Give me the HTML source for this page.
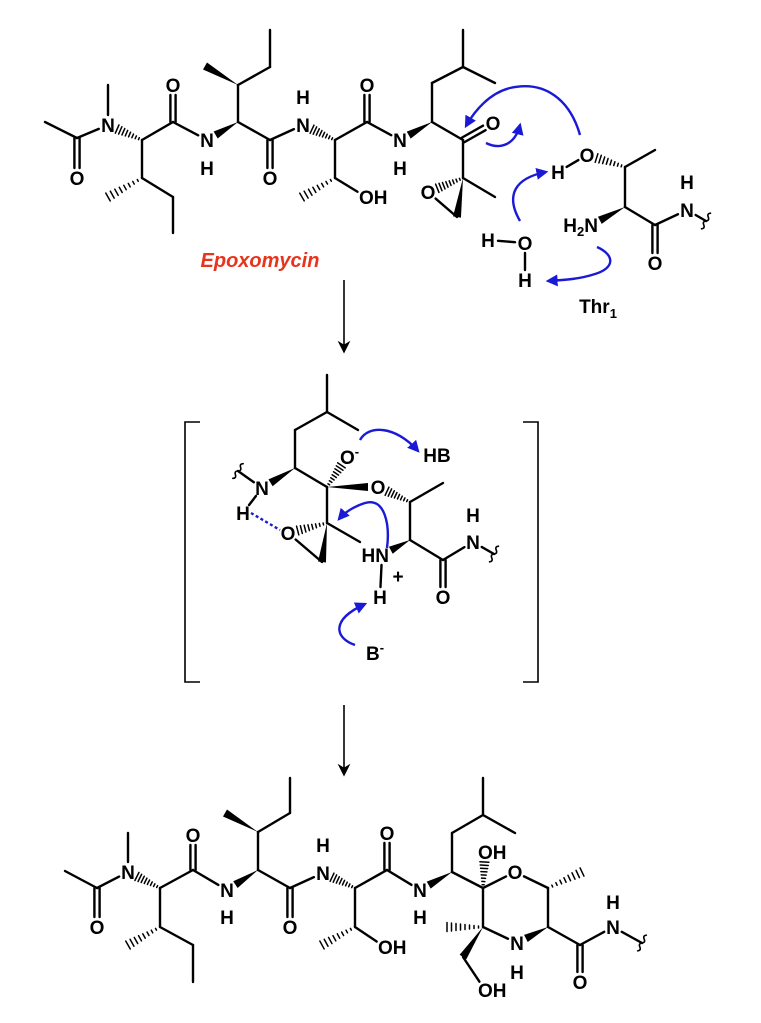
<!DOCTYPE html>
<html><head><meta charset="utf-8">
<style>
html,body{margin:0;padding:0;background:#fff;}
svg{display:block;}
text{font-family:"Liberation Sans",Arial,sans-serif;font-weight:bold;}
</style></head>
<body>
<svg id="s" width="761" height="1023" viewBox="0 0 761 1023" xmlns="http://www.w3.org/2000/svg">
<defs>
<marker id="ab" viewBox="0 0 10 10" refX="8" refY="5" markerWidth="5" markerHeight="5" orient="auto"><path d="M0,0 L10,5 L0,10 z" fill="#1a1ad6"/></marker>
<marker id="ak" viewBox="0 0 10 10" refX="8" refY="5" markerWidth="8" markerHeight="8" orient="auto"><path d="M0,0 L10,5 L0,10 L3,5 z" fill="#000"/></marker>
</defs>
<g id="g" stroke="#000" stroke-width="2.4" fill="none" stroke-linecap="round"></g>
<g id="t" fill="#000" font-size="19"></g>
<g stroke="#1a1ad6" stroke-width="2.4" fill="none">
<path d="M580,135 C570,100 545,80 510,88 C490,93 475,110 466,126" marker-end="url(#ab)"/>
<path d="M486,143 C500,150 515,145 520,125" marker-end="url(#ab)"/>
<path d="M520,221 C505,195 515,178 546,172" marker-end="url(#ab)"/>
<path d="M597,247 C615,255 615,268 595,274 C580,279 565,280 548,281" marker-end="url(#ab)"/>
<path d="M360,440 C368,425 395,425 418,451" marker-end="url(#ab)"/>
<path d="M387,548 C390,525 385,497 365,503 C355,506 345,512 339,519" marker-end="url(#ab)"/>
<path d="M355,645 C335,638 330,620 365,604" marker-end="url(#ab)"/>
<path d="M251,513 L280,530" stroke-dasharray="3,2.5"/>
</g>
<g stroke="#000" stroke-width="1.6" fill="none">
<line x1="344" y1="280" x2="344" y2="351" marker-end="url(#ak)"/>
<line x1="344" y1="705" x2="344" y2="774" marker-end="url(#ak)"/>
<path d="M200,422 L185,422 L185,682 L200,682"/>
<path d="M523,422 L538,422 L538,682 L523,682"/>
</g>
<text x="260" y="267" font-size="20" font-style="italic" fill="#e8341c" text-anchor="middle">Epoxomycin</text>
<text x="598" y="313" font-size="19" text-anchor="middle">Thr<tspan font-size="13" dy="5">1</tspan></text>
</svg>
<script>
const G=document.getElementById('g'),T=document.getElementById('t');
const NS='http://www.w3.org/2000/svg';
const lab=new Set();
function add(p,tag,attrs,txt){const e=document.createElementNS(NS,tag);for(const k in attrs)e.setAttribute(k,attrs[k]);if(txt!==undefined)e.innerHTML=txt;p.appendChild(e);return e;}
function A(x,y,t,mode){
 if(!t)return [x,y];
 lab.add(x+','+y);
 if(mode==='OH') add(T,'text',{x:x-7,y:y+7,'text-anchor':'start'},'OH');
 else if(mode==='H2N') add(T,'text',{x:x+7,y:y+7,'text-anchor':'end'},'H<tspan font-size="13" dy="4">2</tspan><tspan dy="-4">N</tspan>');
 else if(mode==='HN') add(T,'text',{x:x+7,y:y+7,'text-anchor':'end'},'HN');
 else if(mode==='Om') add(T,'text',{x:x-7,y:y+7,'text-anchor':'start'},'O<tspan font-size="13" dy="-8">-</tspan>');
 else add(T,'text',{x:x,y:y+7,'text-anchor':'middle'},t);
 return [x,y];}
function lt(x,y,t){add(T,'text',{x:x,y:y+7,'text-anchor':'middle'},t);}
function sh(a,b){let[x1,y1]=a,[x2,y2]=b;const dx=x2-x1,dy=y2-y1,d=Math.hypot(dx,dy);const r1=lab.has(a+'')?10:0,r2=lab.has(b+'')?10:0;return[x1+dx/d*r1,y1+dy/d*r1,x2-dx/d*r2,y2-dy/d*r2,dx/d,dy/d];}
function s(a,b){const[x1,y1,x2,y2]=sh(a,b);add(G,'line',{x1,y1,x2,y2});}
function d(a,b){const[x1,y1,x2,y2,ux,uy]=sh(a,b);const o=2.6,px=-uy*o,py=ux*o;add(G,'line',{x1:x1+px,y1:y1+py,x2:x2+px,y2:y2+py});add(G,'line',{x1:x1-px,y1:y1-py,x2:x2-px,y2:y2-py});}
function w(a,b){const[x1,y1,x2,y2,ux,uy]=sh(a,b);const o=4,px=-uy*o,py=ux*o;add(G,'polygon',{points:`${x1},${y1} ${x2+px},${y2+py} ${x2-px},${y2-py}`,fill:'#000',stroke:'none'});}
function h(a,b){const[x1,y1,x2,y2,ux,uy]=sh(a,b);const n=8;for(let i=1;i<=n;i++){const f=i/n,cx=x1+(x2-x1)*f,cy=y1+(y2-y1)*f,o=0.5+4*f;add(G,'line',{x1:cx-uy*o,y1:cy+ux*o,x2:cx+uy*o,y2:cy-ux*o,'stroke-width':1.5});}}
function sq(a,b){
 const[x1,y1]=a,[x2,y2]=b;const dx=x2-x1,dy=y2-y1,dd=Math.hypot(dx,dy),ux=dx/dd,uy=dy/dd,px=-uy,py=ux;let p=`M${x2-px*9},${y2-py*9}`;for(let i=0;i<4;i++){const t0=-9+i*4.5,t1=t0+4.5;const sgn=i%2?1:-1;p+=` Q${x2+px*(t0+2.25)+ux*3*sgn},${y2+py*(t0+2.25)+uy*3*sgn} ${x2+px*t1},${y2+py*t1}`;}add(G,'path',{d:p,'stroke-width':1.6});}

{
const a1=A(45,122),a2=A(77,138),O1=A(77,178,'O'),N1=A(108,125,'N'),m1=A(108,85),ca1=A(142,140),cb1=A(142,178),me1=A(108,197),e1=A(173,197),e2=A(173,233),c1=A(173,122),O2=A(173,85,'O'),N2=A(207,140,'N');lt(207,168,'H');
const ca2=A(238,122),cb2=A(238,85),me2=A(205,66),e3=A(270,67),e4=A(270,30),c2=A(270,140),O3=A(270,178,'O'),N3=A(303,125,'N');lt(303,97,'H');
const ca3=A(335,140),cb3=A(335,178),me3=A(302,197),OH=A(366,197,'OH','OH'),c3=A(367,122),O4=A(367,85,'O'),N4=A(400,140,'N');lt(400,168,'H');
const ca4=A(432,122),l1=A(432,83),l2=A(463,67),l3=A(495,83),l4=A(463,30),k=A(463,140),O5=A(493,123,'O'),ep=A(463,178),Oe=A(428,192,'O'),ch=A(457,217),em=A(495,197);
s(a1,a2);d(a2,O1);s(a2,N1);s(N1,m1);h(ca1,N1);s(ca1,cb1);h(cb1,me1);s(cb1,e1);s(e1,e2);s(ca1,c1);d(c1,O2);s(c1,N2);
w(ca2,N2);s(ca2,cb2);w(cb2,me2);s(cb2,e3);s(e3,e4);s(ca2,c2);d(c2,O3);s(c2,N3);h(ca3,N3);s(ca3,cb3);h(cb3,me3);s(cb3,OH);s(ca3,c3);d(c3,O4);s(c3,N4);
w(ca4,N4);s(ca4,l1);s(l1,l2);s(l2,l3);s(l2,l4);s(ca4,k);d(k,O5);s(k,ep);h(ep,Oe);w(ep,ch);s(ch,Oe);s(ep,em);
const tO=A(587,155,'O'),tH=A(558,172,'H'),tb=A(625,167),tm=A(655,150),ta=A(625,207),tN=A(591,225,'H2N','H2N'),tc=A(655,225),tO2=A(655,263,'O'),tN2=A(687,210,'N');lt(687,182,'H');
s(tH,tO);h(tb,tO);s(tb,tm);s(tb,ta);w(ta,tN);s(ta,tc);d(tc,tO2);s(tc,tN2);
const tq=[706,221];s(tN2,tq);sq(tN2,tq);
const wH=A(488,240,'H'),wO=A(525,243,'O'),wH2=A(525,280,'H');s(wH,wO);s(wO,wH2);
}
{
const t1=A(327,375),t2=A(327,412),t3=A(295,430),t4=A(358,430),ca=A(295,468),N=A(262,488,'N'),H=A(243,513,'H'),cq=A(327,487),Om=A(347,457,'O-','Om'),O=A(378,487,'O'),c=A(410,502),cm=A(443,483),cb=A(410,540),Np=A(382,555,'HN','HN'),c2=A(443,560),O2=A(443,597,'O'),N2=A(473,542,'N'),cep=A(327,523),Oe=A(288,533,'O'),ch=A(322,562),em=A(360,542),Hn=A(380,597,'H');
lt(473,515,'H');lt(437,455,'HB');add(T,'text',{x:375,y:660,'text-anchor':'middle'},'B<tspan font-size="13" dy="-8">-</tspan>');
add(T,'text',{x:398,y:583,'text-anchor':'middle'},'+');
s(t1,t2);s(t2,t3);s(t2,t4);s(t3,ca);w(ca,N);s(N,H);s(ca,cq);h(cq,Om);w(cq,O);h(c,O);s(c,cm);s(c,cb);w(cb,Np);s(Np,Hn);s(cb,c2);d(c2,O2);s(c2,N2);s(cq,cep);h(cep,Oe);w(cep,ch);s(ch,Oe);s(cep,em);
const q1=[238,471];s(N,q1);sq(N,q1);const q2=[494,554];s(N2,q2);sq(N2,q2);
}
{
const a1=A(65,871),a2=A(97,888),O1=A(97,927,'O'),N1=A(128,872,'N'),m1=A(128,833),ca1=A(160,888),cb1=A(160,927),me1=A(128,945),e1=A(193,945),e2=A(193,982),c1=A(193,870),O2=A(193,835,'O'),N2=A(227,890,'N');lt(227,917,'H');
const ca2=A(258,870),cb2=A(258,832),me2=A(225,813),e3=A(290,813),e4=A(290,778),c2=A(290,888),O3=A(290,927,'O'),N3=A(323,873,'N');lt(323,845,'H');
const ca3=A(355,888),cb3=A(355,927),me3=A(322,945),OH=A(385,947,'OH','OH'),c3=A(387,870),O4=A(387,833,'O'),N4=A(420,890,'N');lt(420,917,'H');
const ca4=A(452,872),l1=A(452,833),l2=A(483,815),l3=A(515,833),l4=A(483,778),r1=A(483,888),OH2=A(485,852,'OH','OH'),rO=A(515,872,'O'),r2=A(548,888),rm=A(582,872),r3=A(548,927),rN=A(517,943,'N'),r4=A(483,927),r4m=A(447,927),r5=A(463,957),OH3=A(485,990,'OH','OH'),c5=A(580,945),O5=A(580,982,'O'),N5=A(613,927,'N');
lt(517,972,'H');lt(613,902,'H');
s(a1,a2);d(a2,O1);s(a2,N1);s(N1,m1);h(ca1,N1);s(ca1,cb1);h(cb1,me1);s(cb1,e1);s(e1,e2);s(ca1,c1);d(c1,O2);s(c1,N2);
w(ca2,N2);s(ca2,cb2);w(cb2,me2);s(cb2,e3);s(e3,e4);s(ca2,c2);d(c2,O3);s(c2,N3);h(ca3,N3);s(ca3,cb3);h(cb3,me3);s(cb3,OH);s(ca3,c3);d(c3,O4);s(c3,N4);
w(ca4,N4);s(ca4,l1);s(l1,l2);s(l2,l3);s(l2,l4);s(ca4,r1);h(r1,OH2);s(r1,rO);s(rO,r2);h(r2,rm);s(r2,r3);w(r3,rN);s(rN,r4);s(r4,r1);h(r4,r4m);w(r4,r5);s(r5,OH3);s(r3,c5);d(c5,O5);s(c5,N5);
const q=[642,943];s(N5,q);sq(N5,q);
}
</script>
</body></html>
